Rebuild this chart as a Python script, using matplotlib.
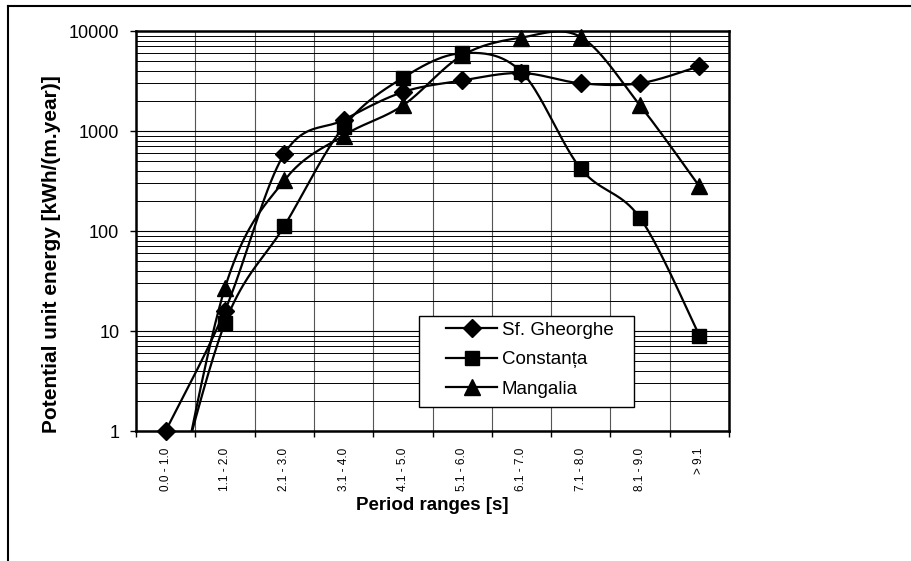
import numpy as np
import matplotlib.pyplot as plt
from matplotlib.lines import Line2D
from matplotlib.patches import Rectangle
from matplotlib.ticker import FixedLocator, NullFormatter

plt.rcParams['font.family'] = ['Liberation Sans', 'DejaVu Sans']

categories = ['0.0 - 1.0', '1.1 - 2.0', '2.1 - 3.0', '3.1 - 4.0', '4.1 - 5.0',
              '5.1 - 6.0', '6.1 - 7.0', '7.1 - 8.0', '8.1 - 9.0', '> 9.1']
sf_gheorghe = [1.0, 16, 590, 1290, 2450, 3200, 3800, 3000, 3000, 4450]
constanta = [0.1, 12, 112, 1100, 3400, 6000, 3900, 420, 135, 9]
mangalia = [0.05, 27, 320, 900, 1800, 5700, 8600, 8700, 1800, 280]

series = [('Sf. Gheorghe', sf_gheorghe, 'D', 9),
          ('Constanța', constanta, 's', 10),
          ('Mangalia', mangalia, '^', 11)]


def smooth(xs, ys, n=40):
    # excel-like bezier smoothing, done in (index, log10) space
    P = np.column_stack([xs, ys])
    out = []
    for i in range(len(P) - 1):
        p0 = P[i - 1] if i > 0 else P[i]
        p1, p2 = P[i], P[i + 1]
        p3 = P[i + 2] if i + 2 < len(P) else P[i + 1]
        c1 = p1 + (p2 - p0) / 6
        c2 = p2 - (p3 - p1) / 6
        t = np.linspace(0, 1, n)[:, None]
        seg = (1 - t)**3 * p1 + 3 * (1 - t)**2 * t * c1 + 3 * (1 - t) * t**2 * c2 + t**3 * p2
        out.append(seg if i == 0 else seg[1:])
    return np.vstack(out)


fig = plt.figure(figsize=(9.12, 5.61), dpi=100)
ax = fig.add_axes([136/912, 1 - 431/561, 593/912, 400/561])

x = np.arange(len(categories))
handles = []
for name, vals, mk, ms in series:
    vals = np.array(vals, dtype=float)
    curve = smooth(x, np.log10(vals))
    ax.plot(curve[:, 0], 10**curve[:, 1], color='black', lw=1.6, zorder=3)
    ok = vals >= 1
    ax.plot(x[ok], vals[ok], ls='none', marker=mk, ms=ms, color='black',
            zorder=3.5, clip_on=False)
    handles.append(Line2D([], [], color='black', lw=1.6, marker=mk, ms=ms, label=name))

ax.set_yscale('log')
ax.set_ylim(1, 10000)
ax.set_xlim(-0.5, len(categories) - 0.5)

# grid: decades + 2..9 in each decade, vertical lines between categories
ax.yaxis.set_major_locator(FixedLocator([1, 10, 100, 1000, 10000]))
ax.set_yticklabels(['1', '10', '100', '1000', '10000'])
minors = [m * 10**d for d in range(4) for m in range(2, 10)]
ax.yaxis.set_minor_locator(FixedLocator(minors))
ax.yaxis.set_minor_formatter(NullFormatter())
ax.grid(True, which='major', axis='y', color='black', lw=0.8)
ax.grid(True, which='minor', axis='y', color='black', lw=0.7)
ax.tick_params(axis='y', which='minor', length=0)
ax.tick_params(axis='y', which='major', length=4, width=1, labelsize=13, pad=8)

ax.xaxis.set_major_locator(FixedLocator(np.arange(len(categories) + 1) - 0.5))
ax.xaxis.set_major_formatter(NullFormatter())
ax.xaxis.set_minor_locator(FixedLocator(x))
ax.set_xticklabels(categories, minor=True, rotation=90, fontsize=8.5)
ax.tick_params(axis='x', which='major', length=4, width=1)
ax.tick_params(axis='x', which='minor', length=0, pad=12)
ax.grid(True, which='major', axis='x', color='#555555', lw=0.8)
ax.set_axisbelow(True)

for s in ax.spines.values():
    s.set_linewidth(1.8)

ax.set_ylabel('Potential unit energy [kWh/(m.year)]', fontsize=15, fontweight='bold')
ax.yaxis.set_label_coords(-0.126, 0.4425)
ax.set_xlabel('Period ranges [s]', fontsize=13.5, fontweight='bold')
ax.xaxis.set_label_coords(0.499, -0.165)

# legend box
ax.add_patch(Rectangle((0.477, 0.06), 0.363, 0.2275, transform=ax.transAxes,
                       facecolor='white', edgecolor='black', lw=1, zorder=4))
leg = ax.legend(handles=handles, loc='upper left', bbox_to_anchor=(0.517, 0.2825),
                frameon=False, fontsize=13.5, handlelength=2.7, handletextpad=0.25,
                labelspacing=0.65, borderaxespad=0, borderpad=0.2)
leg.set_zorder(5)

# outer frame (top and left only)
fig.add_artist(Line2D([8/912, 1], [1 - 6/561, 1 - 6/561], color='black', lw=1.5))
fig.add_artist(Line2D([8/912, 8/912], [0, 1 - 6/561], color='black', lw=1.5))

fig.savefig('out.png', dpi=100, facecolor='white')
